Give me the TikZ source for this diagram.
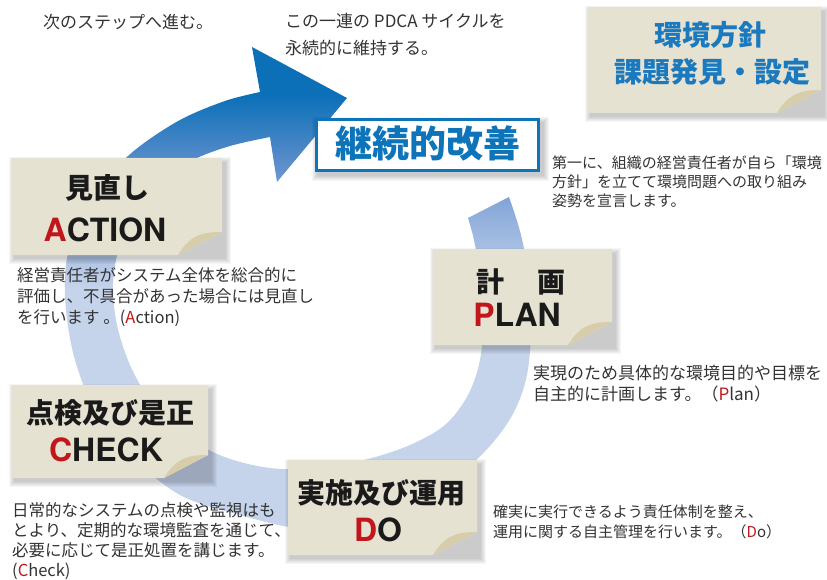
\documentclass[tikz,border=0pt]{standalone}
\usepackage{fontspec}
\setmainfont{Noto Sans CJK JP}
\newfontfamily\latfont{TeX Gyre Heros}
\definecolor{notebg}{HTML}{E6E2D2}
\definecolor{notefold}{HTML}{D8CDAA}
\definecolor{kblue}{HTML}{0E74BA}
\definecolor{tblue}{HTML}{1B79BE}
\definecolor{txtgray}{HTML}{333333}
\definecolor{headblack}{HTML}{1A1A1A}
\definecolor{kred}{HTML}{C1161C}
\definecolor{ringlight}{HTML}{C5D3EB}
\definecolor{ringmid}{HTML}{8DACDB}
\definecolor{ringmidd}{HTML}{5A8DCA}
\definecolor{ringdark}{HTML}{0B70B8}
\pgfdeclareverticalshading{ringshade}{100bp}{color(0bp)=(ringlight); color(50bp)=(ringlight); color(58bp)=(ringmid); color(63bp)=(ringmidd); color(70bp)=(ringdark); color(100bp)=(ringdark)}
\newcommand\softshadow[4]{%
  \foreach \e in {1,...,6}{\fill[black,opacity=0.035] ({#1+3-\e},{#2+5-\e}) rectangle ({#3+3+\e},{#4+3+\e});}}
\newcommand\stickynote[4]{%
  \softshadow{#1}{#2}{#3}{#4}
  \fill[notebg] (#1,#2) -- (#3,#2) -- (#3,{#4-23}) -- ({#3-44},#4) -- (#1,#4) -- cycle;
  \fill[notefold] (#3,{#4-23}) .. controls ({#3-20},{#4-23}) and ({#3-32},{#4-20}) .. ({#3-44},#4) -- cycle;}
\tikzset{
  body/.style={anchor=north west, inner sep=0pt, align=left, text=txtgray},
  jhead/.style={inner sep=0pt, text=headblack, font=\bfseries\fontsize{28}{30}\selectfont},
  lhead/.style={inner sep=0pt, text=headblack, font=\latfont\bfseries\fontsize{32}{34}\selectfont},
}
\begin{document}
\begin{tikzpicture}[x=1pt,y=-1pt]
\useasboundingbox (0,0) rectangle (827,580);
\fill[white] (0,0) rectangle (827,580);
% ring arrow
\shade[shading=ringshade] plot[smooth, tension=0.55] coordinates {(509,197) (521,235) (529,280) (531,330) (527,375) (515,410) (495,440) (465,470) (420,500) (360,520) (300,528) (240,515) (180,495) (130,455) (95,410) (75,360) (66,310) (66,265) (78,220) (100,185) (135,150) (180,120) (225,101) (260,92)}
  -- (252,47) -- (347,98) -- (277,182)
  -- plot[smooth, tension=0.55] coordinates {(270,137) (230,146) (193,160) (160,183) (135,213) (119,248) (113,285) (117,325) (130,365) (150,400) (180,432) (222,456) (270,468) (320,468) (368,459) (410,445) (445,425) (468,395) (480,360) (483,320) (480,275) (474,240) (468,218)} -- cycle;
% sticky notes
\stickynote{588}{7}{821}{113}
\stickynote{12}{158}{222}{255}
\stickynote{433}{249}{612}{345}
\stickynote{12}{385}{208}{478}
\stickynote{288}{460}{477}{555}
% centre box
\softshadow{315}{118}{540}{172}
\node[draw=kblue, line width=3pt, fill=white, minimum width=222, minimum height=51, inner sep=0pt] (kaizen) at (427.5,145) {};
\node[inner sep=0pt, text=kblue, font=\bfseries\fontsize{37}{40}\selectfont] (kaizentxt) at (427.5,143) {継続的改善};
% top right
\node[inner sep=0pt, text=tblue, font=\bfseries\fontsize{28}{30}\selectfont] (env1) at (710,35) {環境方針};
\node[inner sep=0pt, text=tblue, font=\bfseries\fontsize{28}{30}\selectfont] (env2) at (712,72) {課題発見・設定};
% headings
\node[jhead] (actJ) at (107,188) {見直し};
\node[lhead] (actL) at (105,230) {{\color{kred}A}CTION};
\node[jhead] (planJ) at (521,282) {計\hspace{33pt}画};
\node[lhead] (planL) at (517,315) {{\color{kred}P}LAN};
\node[jhead] (chkJ) at (111,413) {点検及び是正};
\node[lhead] (chkL) at (106,450) {{\color{kred}C}HECK};
\node[jhead] (doJ) at (381,493) {実施及び運用};
\node[lhead] (doL) at (378,530) {{\color{kred}D}O};
% body texts
\node[body, font=\fontsize{17}{27}\selectfont] (next) at (43,14) {次のステップへ進む。};
\node[body, font=\fontsize{17}{27}\selectfont] (pdca) at (285,13) {この一連の PDCA サイクルを\\永続的に維持する。};
\node[body, font=\fontsize{15}{19}\selectfont] (first) at (552,156) {第一に、組織の経営責任者が自ら「環境\\方針」を立てて環境問題への取り組み\\姿勢を宣言します。};
\node[body, font=\fontsize{16.5}{21}\selectfont] (acttxt) at (17,267.5) {経営責任者がシステム全体を総合的に\\評価し、不具合があった場合には見直し\\を行います 。({\color{kred}A}ction)};
\node[body, font=\fontsize{17}{20.5}\selectfont] (plantxt) at (533,365) {実現のため具体的な環境目的や目標を\\自主的に計画します。（{\color{kred}P}lan）};
\node[body, font=\fontsize{16.5}{20}\selectfont] (chktxt) at (12,502.5) {日常的なシステムの点検や監視はも\\とより、定期的な環境監査を通じて、\\必要に応じて是正処置を講じます。\\({\color{kred}C}heck)};
\node[body, font=\fontsize{15}{20}\selectfont] (dotxt) at (493,505) {確実に実行できるよう責任体制を整え、\\運用に関する自主管理を行います。（{\color{kred}D}o）};
\end{tikzpicture}
\end{document}
